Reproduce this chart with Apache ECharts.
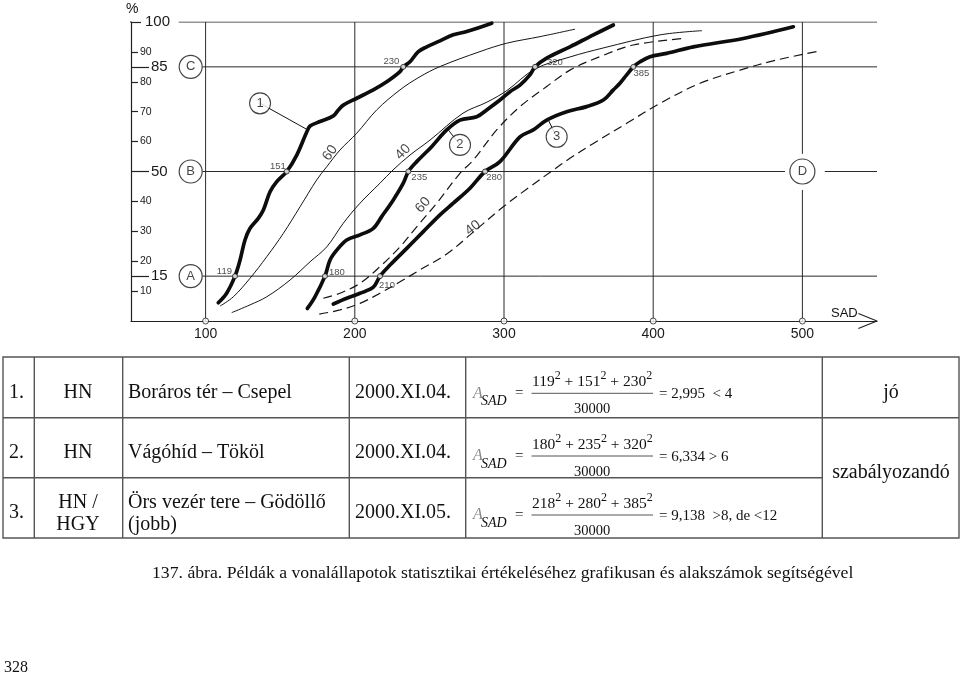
<!DOCTYPE html>
<html><head><meta charset="utf-8">
<script src="https://cdn.jsdelivr.net/npm/echarts@6/dist/echarts.min.js"></script>
<style>html,body{margin:0;padding:0;background:#fff}#c{width:960px;height:680px}</style>
</head><body><div id="c"></div>
<script>
// ---------- DATA ----------
const xTickValues = [100, 200, 300, 400, 500];
const yMinorTicks = [10, 20, 30, 40, 60, 70, 80, 90];
const yMajorTicks = [15, 50, 85];
const yTopTick = [100];

// thick measured curves [SAD, %]
const curve1 = [[108.5,6.1],[114.1,9.3],[119.7,15],[123.1,20.4],[126.4,27.1],[129.8,31],[135.3,34.3],[138.7,37.1],[143.2,43.2],[147.7,46.6],[154.4,50],[161.1,55.5],[167.8,63.2],[170,65.2],[176.7,66.7],[185.6,68.6],[189,70.6],[192.3,72.2],[201.3,74.5],[212.4,77.3],[221.4,80],[230.3,83.4],[232.5,85],[237,86.7],[242.6,90.1],[248.2,91.7],[257.1,93.7],[266,95.7],[275,96.8],[291.8,99.6]];
const curve2 = [[168.2,4.2],[173.3,8.1],[180,15],[183.4,20.4],[187.9,23.7],[194.6,27.1],[203.5,28.8],[212.4,31],[218,34.9],[225.8,40.5],[232.5,46.1],[235.9,50],[241.5,53.3],[251.5,58.3],[261.6,63.9],[270.5,67.2],[281.7,68.3],[288.4,70.6],[297.3,73.9],[304,76.7],[310.7,78.9],[317.4,82.3],[320.8,85],[328.6,87.9],[344.2,91.7],[359.9,95.7],[373.3,99]];
const curve3 = [[185.6,5.7],[194.6,7.6],[203.5,9.3],[212.4,11.3],[216.9,15],[223.6,18.7],[234.8,24.3],[245.9,29.9],[257.1,35.5],[266,39.4],[277.2,44.4],[287.3,50],[297.3,53.3],[310.7,61.6],[319.6,63.9],[328.6,67.2],[342,70],[355.4,71.7],[366.6,73.9],[373.3,77.3],[377.7,79.5],[382.2,82.3],[386.7,85],[391.2,86.7],[397.9,88.4],[409,89.5],[426.9,91.7],[460.4,94.5],[493.9,98.4]];
// reference (limit) curves
const thin60 = [[109.7,5],[118.6,8.1],[129.8,14.3],[141,21.5],[152.1,29.3],[163.3,38.2],[174.5,47.2],[181.2,51.6],[190.1,57.2],[201.3,62.8],[214.7,70.6],[230.3,77.3],[243.7,81.7],[257.1,85.1],[283.9,90.1],[301.8,92.9],[324.1,95.1],[347.6,97.6]];
const thin40 = [[117.5,2.8],[129.8,5.4],[141,8.1],[156.6,13.7],[170,19.8],[181.2,24.8],[192.3,32.7],[203.5,39.4],[216.9,46.1],[225.6,50.5],[237,55.5],[250.4,60.5],[272.5,69.5],[288.6,73.2],[302,77.1],[320.8,84.3],[344.2,88.3],[366.4,91.3],[404.6,95.7],[432.7,97.1]];
const dash60 = [[178.9,7.6],[190.1,9.3],[203.5,12.6],[216.9,18.2],[230.3,24.8],[241.5,31.5],[254.9,39.4],[270.5,49.4],[279.4,53.8],[295.1,63.9],[310.7,71.7],[328.6,78.4],[344.2,83.9],[364.3,88.4],[386.7,92.3],[420.2,94.5]];
const dash40 = [[176.2,2.3],[190.1,3.7],[203.5,5.9],[216.9,9.3],[230.3,13.1],[243.7,17.1],[261.6,22.4],[277.2,28.8],[299.5,38.2],[317.4,44.9],[333,50.5],[344.2,54.4],[359.9,59.4],[382.2,66.1],[404.6,72.8],[431.4,79.5],[458.2,83.9],[482.8,87.3],[509.6,90.1]];

// read-off points at 15 / 50 / 85 %
const readPoints = [[119.7,15,'119'],[154.4,50,'151'],[232.5,85,'230'],[180,15,'180'],[235.9,50,'235'],[320.8,85,'320'],[216.9,15,'210'],[287.3,50,'280'],[386.7,85,'385']];
const levelCircles = [[90,85,'C'],[90,50,'B'],[90,15,'A'],[500,50,'D']];
const curveCircles = [[136.5,72.8,'1'],[270.5,58.9,'2'],[335.3,61.6,'3']];
const leaderEnds = [[167.8,64.1],[262.7,63.9],[329.7,67.2]];
const curveNumberLabels = [[183.4,56.2,'60'],[232.3,56.5,'40'],[245.7,38.8,'60'],[279.2,31.1,'40']];
const refSegments = [
  [[82,100],[550,100]], [[98,85],[550,85]], [[98,50],[488.3,50]], [[515,50],[550,50]], [[98,15],[550,15]],
  [[100,0],[100,100]], [[200,0],[200,100]], [[300,0],[300,100]], [[400,0],[400,100]],
  [[500,0],[500,43.8]], [[500,55.9],[500,100]]
];

// ---------- STYLE ----------
const sans = '"Liberation Sans", Arial, sans-serif';
const serif = '"Liberation Serif", "Times New Roman", serif';
const ink = '#151515';
const readLabelStyle = [
  {position:'left', distance:1, offset:[1,-5]},
  {position:'left', distance:0, offset:[2,-5]},
  {position:'left', distance:1, offset:[0,-5]},
  {position:'right', distance:1, offset:[0,-4]},
  {position:'right', distance:0, offset:[0,6]},
  {position:'right', distance:9, offset:[0,-4]},
  {position:'bottom', distance:1, offset:[7,0]},
  {position:'bottom', distance:0, offset:[9,-2]},
  {position:'bottom', distance:0, offset:[8,-1]}
];
const curveLabelRotate = [55, 45, 50, 38];

const series = [];
refSegments.forEach(seg => series.push({type:'line', data:seg, symbol:'none', silent:true, animation:false, z:1,
  lineStyle:{color:'#2a2a2a', width:1}}));
[thin60, thin40].forEach(d => series.push({type:'line', data:d, symbol:'none', smooth:0.35, animation:false, z:2,
  lineStyle:{color:ink, width:1}}));
[dash60, dash40].forEach(d => series.push({type:'line', data:d, symbol:'none', smooth:0.35, animation:false, z:2,
  lineStyle:{color:ink, width:1.2, type:[9,5]}}));
[curve1, curve2, curve3].forEach(d => series.push({type:'line', data:d, symbol:'none', smooth:0.35, animation:false, z:3,
  lineStyle:{color:'#0d0d0d', width:3.7, cap:'round', join:'round'}}));
curveCircles.forEach((c, i) => series.push({type:'line', data:[[c[0],c[1]], leaderEnds[i]], symbol:'none', animation:false, z:3,
  lineStyle:{color:ink, width:1}}));
// axis arrow + top tick extension
series.push({type:'line', data:[[537.5,2.5],[550,0],[537.5,-2.5]], symbol:'none', clip:false, animation:false, z:4,
  lineStyle:{color:'#222', width:1.2}});
series.push({type:'line', data:[[46,100],[50,100]], symbol:'none', clip:false, animation:false, z:4,
  lineStyle:{color:'#222', width:1.2}});
// level circles A B C D
series.push({type:'scatter', clip:false, animation:false, z:5, symbol:'circle',
  data: levelCircles.map(c => ({value:[c[0],c[1]], name:c[2], symbolSize: c[2]==='D'?25:23})),
  itemStyle:{color:'#fff', borderColor:ink, borderWidth:1.2},
  label:{show:true, position:'inside', formatter:'{b}', fontSize:13, fontFamily:sans, color:ink}});
// curve number circles
series.push({type:'scatter', clip:false, animation:false, z:5, symbol:'circle', symbolSize:21,
  data: curveCircles.map(c => ({value:[c[0],c[1]], name:c[2]})),
  itemStyle:{color:'#fff', borderColor:ink, borderWidth:1.1},
  label:{show:true, position:'inside', formatter:'{b}', fontSize:13, fontFamily:sans, color:ink}});
// read points
series.push({type:'scatter', clip:false, animation:false, z:6, symbol:'circle', symbolSize:5,
  data: readPoints.map((p, i) => ({value:[p[0],p[1]], name:p[2], label:readLabelStyle[i]})),
  itemStyle:{color:'#fff', borderColor:ink, borderWidth:1},
  label:{show:true, formatter:'{b}', fontSize:9.5, fontFamily:sans, color:'#222'}});
// curve percentile labels
series.push({type:'scatter', clip:false, animation:false, z:6, symbolSize:0,
  data: curveNumberLabels.map((p, i) => ({value:[p[0],p[1]], name:p[2], label:{rotate:curveLabelRotate[i]}})),
  label:{show:true, position:'inside', formatter:'{b}', fontSize:14, fontFamily:sans, color:ink}});
// x tick circles
series.push({type:'scatter', clip:false, animation:false, z:6, symbol:'circle', symbolSize:6,
  data: xTickValues.map(v => [v, 0]),
  itemStyle:{color:'#fff', borderColor:'#222', borderWidth:1}});

// ---------- TABLE / TEXT (graphic) ----------
function T(x, y, text, size, extra) {
  return {type:'text', x:x, y:y, silent:true, z:10,
    style:Object.assign({text:text, fontSize:size, fontFamily:serif, fill:'#111', align:'left', verticalAlign:'middle'}, extra || {})};
}
function L(x1, y1, x2, y2, w) {
  return {type:'line', silent:true, z:10, shape:{x1:x1, y1:y1, x2:x2, y2:y2}, style:{stroke:'#555', lineWidth:w || 1.4}};
}
const sup = {s:{fontSize:12, verticalAlign:'top', fontFamily:serif}};
function formula(barY, nums, result) {
  const els = [];
  els.push(T(473, barY, 'A', 16, {fontStyle:'italic', fill:'#8a8a8a'}));
  els.push(T(481, barY + 8, 'SAD', 14, {fontStyle:'italic'}));
  els.push(T(515, barY, '=', 15));
  els.push(T(532, barY - 11, nums[0] + '{s|2} + ' + nums[1] + '{s|2} + ' + nums[2] + '{s|2}', 15.5, {lineHeight:24, rich:sup}));
  els.push(L(531.5, barY, 653, barY, 1));
  els.push(T(592, barY + 16, '30000', 14.5, {align:'center'}));
  els.push(T(659, barY + 1, result, 15));
  return els;
}
const graphic = [
  T(126, 9, '%', 14, {fontFamily:sans}),
  T(831, 313, 'SAD', 13, {fontFamily:sans}),
  {type:'rect', silent:true, z:10, shape:{x:3, y:357, width:956, height:181}, style:{fill:'none', stroke:'#555', lineWidth:1.4}},
  L(3, 417.7, 959, 417.7), L(3, 477.7, 822.3, 477.7),
  L(34.3, 357, 34.3, 538), L(122.7, 357, 122.7, 538), L(349.3, 357, 349.3, 538), L(465.7, 357, 465.7, 538), L(822.3, 357, 822.3, 538),
  T(9, 393, '1.', 20), T(78, 393, 'HN', 20, {align:'center'}), T(128, 393, 'Boráros tér – Csepel', 20), T(355, 393, '2000.XI.04.', 20),
  T(9, 453, '2.', 20), T(78, 453, 'HN', 20, {align:'center'}), T(128, 453, 'Vágóhíd – Tököl', 20), T(355, 453, '2000.XI.04.', 20),
  T(9, 513, '3.', 20), T(78, 503, 'HN /', 20, {align:'center'}), T(78, 525, 'HGY', 20, {align:'center'}),
  T(128, 503, 'Örs vezér tere – Gödöllő', 20), T(128, 525, '(jobb)', 20), T(355, 513, '2000.XI.05.', 20),
  T(891, 393, 'jó', 20, {align:'center'}), T(891, 473, 'szabályozandó', 20, {align:'center'}),
  T(152, 573, '137. ábra. Példák a vonalállapotok statisztikai értékeléséhez grafikusan és alakszámok segítségével', 17.7),
  T(4, 668, '328', 16)
].concat(formula(393.3, ['119','151','230'], '= 2,995  < 4'))
 .concat(formula(456, ['180','235','320'], '= 6,334 > 6'))
 .concat(formula(515, ['218','280','385'], '= 9,138  >8, de <12'));

const chart = echarts.init(document.getElementById('c'), null, {renderer:'canvas'});
chart.setOption({
  animation:false,
  backgroundColor:'#fff',
  grid:{left:131, right:83, top:22, bottom:359, containLabel:false},
  xAxis:{type:'value', min:50, max:550,
    axisLine:{show:true, onZero:false, lineStyle:{color:'#222', width:1.2}},
    axisTick:{show:false}, splitLine:{show:false},
    axisLabel:{customValues:xTickValues, fontSize:14, fontFamily:sans, color:'#1a1a1a', margin:6}},
  yAxis:[
    {type:'value', min:0, max:100, position:'left',
      axisLine:{show:true, onZero:false, lineStyle:{color:'#222', width:1.2}},
      axisTick:{show:true, inside:true, length:7, customValues:yMinorTicks, lineStyle:{color:'#222', width:1.2}},
      axisLabel:{inside:true, margin:9, customValues:yMinorTicks, fontSize:10.5, fontFamily:sans, color:'#1a1a1a'},
      splitLine:{show:false}},
    {type:'value', min:0, max:100, position:'left', offset:0,
      axisLine:{show:false, onZero:false},
      axisTick:{show:true, inside:true, length:18, customValues:yMajorTicks, lineStyle:{color:'#222', width:1.2}},
      axisLabel:{inside:true, margin:20, customValues:yMajorTicks, fontSize:15, fontFamily:sans, color:'#1a1a1a'},
      splitLine:{show:false}},
    {type:'value', min:0, max:100, position:'left', offset:0,
      axisLine:{show:false, onZero:false},
      axisTick:{show:true, inside:true, length:10, customValues:yTopTick, lineStyle:{color:'#222', width:1.2}},
      axisLabel:{inside:true, margin:14, customValues:yTopTick, fontSize:15, fontFamily:sans, color:'#1a1a1a'},
      splitLine:{show:false}}
  ],
  series: series,
  graphic: graphic
});
</script></body></html>
